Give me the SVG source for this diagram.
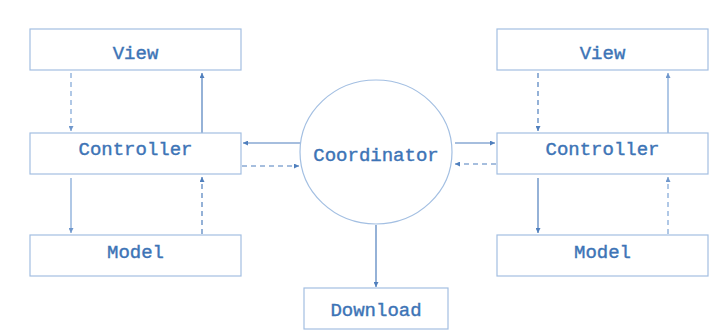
<svg xmlns="http://www.w3.org/2000/svg" width="722" height="336" viewBox="0 0 722 336">
<style>
.box{fill:#fff;stroke:#a3bfe2;stroke-width:1.2}
.lbl{font-family:"Liberation Mono","Courier New",monospace;font-size:19px;fill:#3d74b6;stroke:#3d74b6;stroke-width:0.4;text-anchor:middle}
.ln{stroke:#4f7fbd;stroke-width:1.2;fill:none;marker-end:url(#ah)}
.lt{stroke:#8fb1dc;stroke-width:1.4;fill:none;marker-end:url(#ahl)}
.d{stroke-dasharray:5,4}
</style>
<defs>
<marker id="ah" viewBox="0 0 6 6" refX="6" refY="3" markerWidth="5" markerHeight="5" markerUnits="userSpaceOnUse" orient="auto"><path d="M0,0L6,3L0,6z" fill="#4f7fbd"/></marker>
<marker id="ahl" viewBox="0 0 6 6" refX="6" refY="3" markerWidth="5" markerHeight="5" markerUnits="userSpaceOnUse" orient="auto"><path d="M0,0L6,3L0,6z" fill="#6f97cc"/></marker>
</defs>
<rect width="722" height="336" fill="#fff"/>
<g id="connectors">
<line class="lt d" x1="71" y1="73" x2="71" y2="131"/>
<line class="ln" x1="202" y1="133" x2="202" y2="73"/>
<line class="lt" x1="71" y1="178" x2="71" y2="233"/>
<line class="ln d" x1="202" y1="234" x2="202" y2="177"/>
<line class="ln" x1="300" y1="143" x2="243" y2="143"/>
<line class="ln d" x1="242" y1="166" x2="299" y2="166"/>
<line class="ln" x1="455" y1="143" x2="495" y2="143"/>
<line class="ln d" x1="496" y1="164" x2="455" y2="164"/>
<line class="ln d" x1="538" y1="73" x2="538" y2="131"/>
<line class="lt" x1="668" y1="133" x2="668" y2="73"/>
<line class="ln" x1="538" y1="178" x2="538" y2="233"/>
<line class="lt d" x1="668" y1="234" x2="668" y2="177"/>
<line class="ln" x1="376" y1="225" x2="376" y2="287"/>
</g>
<g id="view-left"><rect class="box" x="30" y="29" width="211" height="41"/><text class="lbl" x="135.5" y="59">View</text></g>
<g id="controller-left"><rect class="box" x="30" y="133" width="211" height="41"/><text class="lbl" x="135.5" y="155">Controller</text></g>
<g id="model-left"><rect class="box" x="30" y="235" width="211" height="41"/><text class="lbl" x="135.5" y="258">Model</text></g>
<g id="coordinator"><ellipse cx="376" cy="152" rx="76" ry="72" fill="#fff" stroke="#a3bfe2" stroke-width="1.2"/><text class="lbl" x="376" y="161">Coordinator</text></g>
<g id="download"><rect class="box" x="304" y="288" width="144" height="41"/><text class="lbl" x="376" y="316">Download</text></g>
<g id="view-right"><rect class="box" x="497" y="29" width="211" height="41"/><text class="lbl" x="602.5" y="59">View</text></g>
<g id="controller-right"><rect class="box" x="497" y="133" width="211" height="41"/><text class="lbl" x="602.5" y="155">Controller</text></g>
<g id="model-right"><rect class="box" x="497" y="235" width="211" height="41"/><text class="lbl" x="602.5" y="258">Model</text></g>
</svg>
